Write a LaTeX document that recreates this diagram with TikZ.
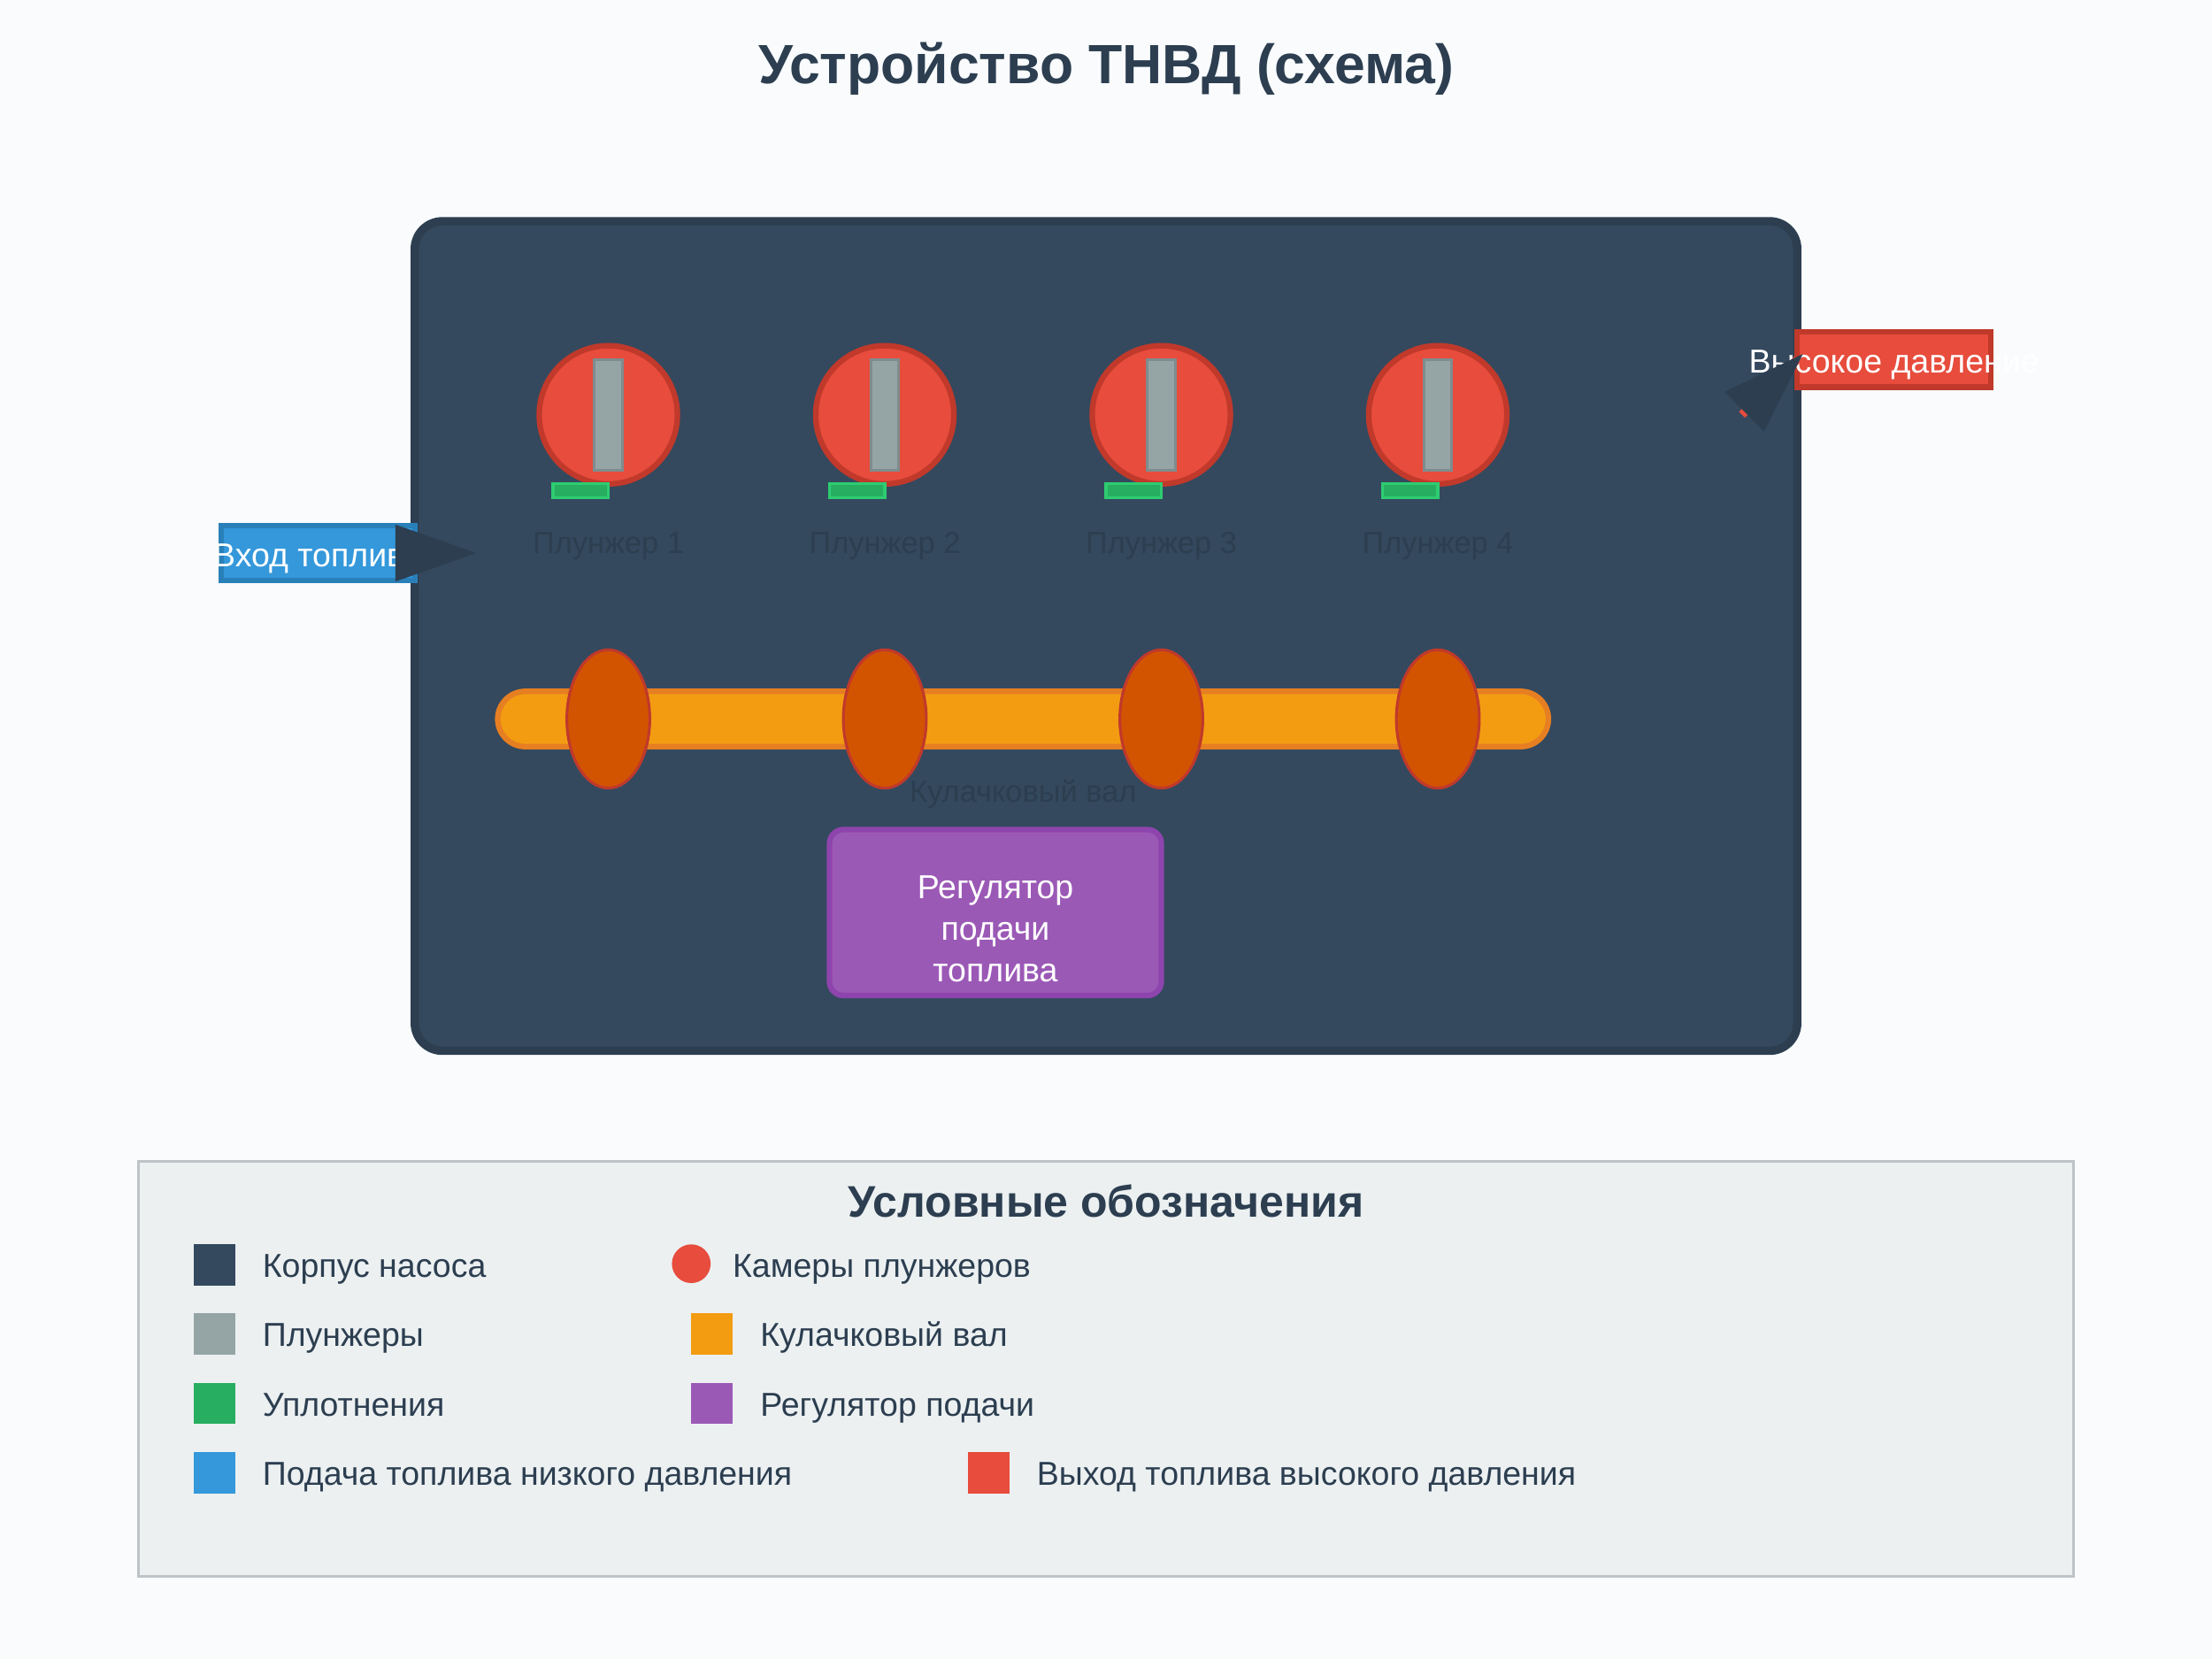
\documentclass[tikz,border=0pt]{standalone}
\usepackage{fontspec}
\setmainfont{Liberation Sans}
\definecolor{pagebg}{HTML}{F9FBFD}
\definecolor{slate}{HTML}{34495E}
\definecolor{ink}{HTML}{2C3E50}
\definecolor{chamber}{HTML}{E74C3C}
\definecolor{chamberedge}{HTML}{C0392B}
\definecolor{steel}{HTML}{95A5A6}
\definecolor{steeledge}{HTML}{7F8C8D}
\definecolor{seal}{HTML}{27AE60}
\definecolor{sealedge}{HTML}{2ECC71}
\definecolor{shaft}{HTML}{F39C12}
\definecolor{shaftedge}{HTML}{E67E22}
\definecolor{cam}{HTML}{D35400}
\definecolor{governor}{HTML}{9B59B6}
\definecolor{governoredge}{HTML}{8E44AD}
\definecolor{fuelin}{HTML}{3498DB}
\definecolor{fueledge}{HTML}{2980B9}
\definecolor{legendbg}{HTML}{ECF0F1}
\definecolor{legendedge}{HTML}{BDC3C7}
\usetikzlibrary{shapes.geometric}
\tikzset{
  box/.style={rectangle, inner sep=0pt, outer sep=0pt},
  lab/.style={inner sep=0pt, outer sep=0pt, anchor=base, font=\fontsize{11}{13}\selectfont, text=ink},
  whitelab/.style={inner sep=0pt, outer sep=0pt, anchor=base, font=\fontsize{12}{15}\selectfont, text=white},
  legendlab/.style={inner sep=0pt, outer sep=0pt, anchor=base west, font=\fontsize{12}{14}\selectfont, text=ink},
  swatch/.style={box, anchor=north west, minimum width=15pt, minimum height=15pt}
}

\begin{document}
\begin{tikzpicture}[x=1pt, y=-1pt]
    \useasboundingbox (0,0) rectangle (800,600);
    \fill[pagebg] (0,0) rectangle (800,600);
    \node[anchor=base, inner sep=0pt, font=\fontsize{20}{24}\selectfont\bfseries, text=ink] (title) at (400,30.1) {Устройство ТНВД (схема)};
    % pump body
    \node[box, draw=ink, fill=slate, line width=3pt, rounded corners=10pt, minimum width=500pt, minimum height=300pt] (body) at (400,230) {};
    % plungers
    \foreach \n/\x in {1/220, 2/320, 3/420, 4/520} {
      \node[circle, inner sep=0pt, outer sep=0pt, draw=chamberedge, fill=chamber, line width=2pt, minimum size=50pt] (chamber\n) at (\x,150) {};
      \node[box, draw=steeledge, fill=steel, line width=1pt, minimum width=10pt, minimum height=40pt] (plunger\n) at (\x,150) {};
      \node[box, draw=sealedge, fill=seal, line width=1pt, minimum width=20pt, minimum height=5pt, anchor=north west] (seal\n) at (\x-20,175) {};
      \node[lab] (plungerlab\n) at (\x,200) {Плунжер \n};
    }
    % camshaft
    \node[box, draw=shaftedge, fill=shaft, line width=2pt, rounded corners=10pt, minimum width=380pt, minimum height=20pt] (camshaft) at (370,260) {};
    \foreach \n/\x in {1/220, 2/320, 3/420, 4/520}
      \node[ellipse, inner sep=0pt, outer sep=0pt, draw=chamberedge, fill=cam, line width=1pt, minimum width=30pt, minimum height=50pt] (cam\n) at (\x,260) {};
    \node[lab] (camlab) at (370,290) {Кулачковый вал};
    % governor
    \node[box, draw=governoredge, fill=governor, line width=2pt, rounded corners=5pt, minimum width=120pt, minimum height=60pt] (regbox) at (360,330) {};
    \node[whitelab, anchor=center, align=center] (reglab) at (360,336) {Регулятор\\подачи\\топлива};
    % legend
    \node[box, draw=legendedge, fill=legendbg, line width=1pt, minimum width=700pt, minimum height=150pt] (legend) at (400,495) {};
    \node[anchor=base, inner sep=0pt, font=\fontsize{16}{19}\selectfont\bfseries, text=ink] (legendtitle) at (400,440) {Условные обозначения};
    \foreach \n/\x/\y/\col/\txt in {
      1/70/450/slate/Корпус насоса,
      2/70/475/steel/Плунжеры,
      3/70/500/seal/Уплотнения,
      4/70/525/fuelin/Подача топлива низкого давления,
      5/250/475/shaft/Кулачковый вал,
      6/250/500/governor/Регулятор подачи,
      7/350/525/chamber/Выход топлива высокого давления} {
      \node[swatch, fill=\col] (swatch\n) at (\x,\y) {};
      \node[legendlab] (legendlab\n) at (\x+25,\y+12) {\txt};
    }
    \node[circle, inner sep=0pt, outer sep=0pt, fill=chamber, minimum size=14pt] (swatch8) at (250,457) {};
    \node[legendlab] (legendlab8) at (265,462) {Камеры плунжеров};
    % fuel ports
    \node[box, draw=fueledge, fill=fuelin, line width=2pt, minimum width=70pt, minimum height=20pt] (inbox) at (115,200) {};
    \node[whitelab] (inlab) at (115,205) {Вход топлива};
    \node[box, draw=chamberedge, fill=chamber, line width=2pt, minimum width=70pt, minimum height=20pt] (outbox) at (685,130) {};
    \node[whitelab] (outlab) at (685,135) {Высокое давление};
    \coordinate (inend) at (169.5,200);
    \coordinate (outstart) at (630,150);
    \draw[fuelin, line width=2pt] (inbox.east) -- (inend);
    \draw[chamber, line width=3pt] (outstart) -- (outbox.west);
    \fill[ink] (143,189.7) -- (172.2,200) -- (143,210.3) -- cycle;
    \fill[ink] (623.8,141.7) -- (652,128) -- (638,156) -- cycle;
    \end{tikzpicture}
\end{document}
